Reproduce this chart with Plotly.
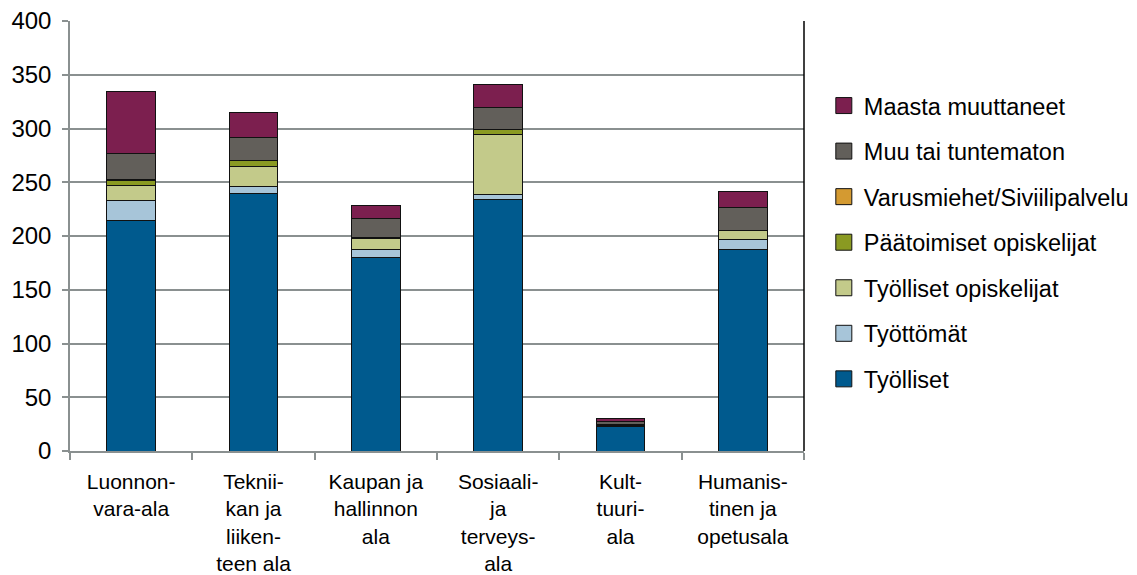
import plotly.graph_objects as go

categories = [
    "Luonnon-<br>vara-ala",
    "Teknii-<br>kan ja<br>liiken-<br>teen ala",
    "Kaupan ja<br>hallinnon<br>ala",
    "Sosiaali-<br>ja<br>terveys-<br>ala",
    "Kult-<br>tuuri-<br>ala",
    "Humanis-<br>tinen ja<br>opetusala",
]

series_names = [
    "Työlliset",
    "Työttömät",
    "Työlliset opiskelijat",
    "Päätoimiset opiskelijat",
    "Varusmiehet/Siviilipalvelu",
    "Muu tai tuntematon",
    "Maasta muuttaneet",
]

tyolliset = [214, 240, 180, 234, 23, 187]
tyottomat = [19, 6, 7, 5, 0.5, 10]
tyolliset_opiskelijat = [14, 19, 11, 55, 0.5, 8]
paatoimiset_opiskelijat = [5, 5, 1, 5.5, 0.3, 0.5]
varusmiehet = [1, 0, 0, 0, 0, 0]
muu_tai_tuntematon = [24, 22, 17, 20.5, 3, 21]
maasta_muuttaneet = [57, 23, 12, 21, 2.5, 15]

series_values = [
    tyolliset,
    tyottomat,
    tyolliset_opiskelijat,
    paatoimiset_opiskelijat,
    varusmiehet,
    muu_tai_tuntematon,
    maasta_muuttaneet,
]

colors = ["#005A8E", "#A7C5D9", "#C3CA8A", "#8A9A22", "#D49A31", "#625F5A", "#7C1F4F"]

y_ticks = [0, 50, 100, 150, 200, 250, 300, 350, 400]

FONT = "Liberation Sans, Arial, sans-serif"

fig = go.Figure()
for name, vals, col in zip(series_names, series_values, colors):
    fig.add_trace(go.Bar(
        x=categories, y=vals, name=name,
        marker=dict(color=col, line=dict(color="#111111", width=1)),
        showlegend=False,
    ))
# legend proxies (square swatches), listed top to bottom as in the legend
for name, col in reversed(list(zip(series_names, colors))):
    fig.add_trace(go.Scatter(
        x=[None], y=[None], mode="markers", name=name, legendgroup=name,
        marker=dict(symbol="square", size=16, color=col, line=dict(color="#111111", width=1)),
        showlegend=True,
    ))

fig.update_layout(
    width=1137, height=575,
    margin=dict(l=69.5, r=333, t=21, b=124, autoexpand=False),
    barmode="stack", bargap=0.6,
    plot_bgcolor="white", paper_bgcolor="white",
    font=dict(family=FONT, size=21, color="black"),
    legend=dict(
        x=1.027, xanchor="left", y=0.854, yanchor="top",
        traceorder="grouped", font=dict(size=23.5, family=FONT),
        tracegroupgap=12, itemsizing="trace",
        bgcolor="rgba(0,0,0,0)",
    ),
    showlegend=True,
)
fig.update_xaxes(
    type="category", tickson="boundaries", ticks="outside", ticklen=7,
    tickcolor="#8A9090", tickwidth=1.5, showline=True, linecolor="#8A9090",
    linewidth=1.5, showgrid=False, tickfont=dict(size=21),
    ticklabelstandoff=11, automargin=False,
)
fig.update_yaxes(
    range=[0, 400], tickvals=y_ticks, ticks="outside", ticklen=6,
    tickcolor="#8A9090", tickwidth=1.5, showline=True, linecolor="#8A9090",
    linewidth=1.5, showgrid=True, gridcolor="#8A9090", gridwidth=1.5,
    tickfont=dict(size=24), zeroline=False, ticklabelstandoff=6,
    automargin=False,
)
fig.add_shape(type="line", xref="paper", yref="paper", x0=1, x1=1, y0=0, y1=1,
              line=dict(color="black", width=1.5))

fig.write_html(
    "out.html",
    config={"displayModeBar": False},
    post_script="document.body.style.margin='0';document.body.style.overflow='hidden';",
)
